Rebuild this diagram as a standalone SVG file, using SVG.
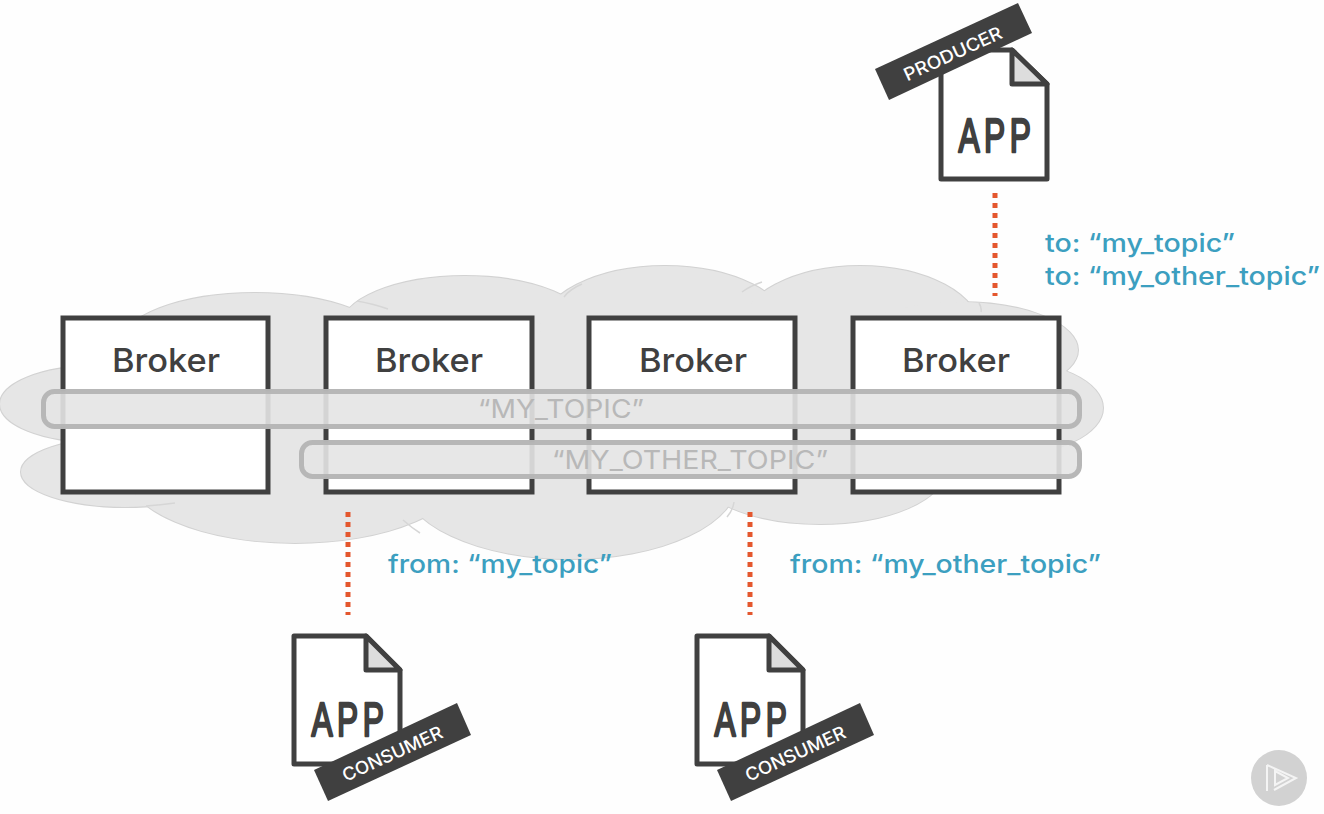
<svg xmlns="http://www.w3.org/2000/svg" width="1324" height="814" viewBox="0 0 1324 814">
<defs>
<style>
.lobe{fill:#e6e6e6;stroke:#d2d2d2;stroke-width:2}
.lobe-fill{fill:#e6e6e6;stroke:none}
.crease{fill:none;stroke:#d6d6d6;stroke-width:1.500}
.box{fill:#fff;stroke:#404040;stroke-width:5;stroke-linejoin:miter}
.bl{font-family:"Inter","Liberation Sans",sans-serif;font-size:33px;font-weight:500;fill:#404040;text-anchor:middle}
.pill{fill:#e4e4e4;fill-opacity:.9;stroke:#b6b6b6;stroke-opacity:.98;stroke-width:5}
.tp{font-family:"Inter","Liberation Sans",sans-serif;font-size:26px;fill:#b8b8b8;text-anchor:middle}
.lab{font-family:"Inter","Liberation Sans",sans-serif;font-size:25px;font-weight:500;fill:#3c9fc0}
.dot{fill:none;stroke:#e4572e;stroke-width:5;stroke-dasharray:5 5}
.page{fill:#fff;stroke:#404040;stroke-width:5;stroke-linejoin:round}
.fold{fill:#dddddd;stroke:#404040;stroke-width:5;stroke-linejoin:round}
.app{font-family:"Liberation Sans",Arial,sans-serif;font-size:48px;letter-spacing:7px;fill:#404040;stroke:#404040;stroke-width:2.500;stroke-linejoin:round;text-anchor:middle}
.ban{fill:#404040}
.bt{font-family:"Inter","Liberation Sans",sans-serif;font-size:18px;font-weight:500;fill:#fff;text-anchor:middle}
</style>
<g id="cloud-shape">
<ellipse cx="95" cy="404" rx="95" ry="38"/>
<ellipse cx="125" cy="472" rx="104" ry="35"/>
<ellipse cx="255" cy="345" rx="135" ry="52"/>
<ellipse cx="465" cy="328" rx="125" ry="52"/>
<ellipse cx="665" cy="330" rx="125" ry="64"/>
<ellipse cx="860" cy="330" rx="120" ry="64"/>
<ellipse cx="960" cy="350" rx="118" ry="48"/>
<ellipse cx="1000" cy="408" rx="103" ry="48"/>
<ellipse cx="295" cy="470" rx="170" ry="73"/>
<ellipse cx="570" cy="480" rx="168" ry="79"/>
<ellipse cx="820" cy="470" rx="125" ry="54"/>
<rect x="100" y="340" width="900" height="150"/>
</g>
</defs>
<rect width="1324" height="814" fill="#fefefe"/>
<g id="cloud">
<use href="#cloud-shape" class="lobe"/>
<use href="#cloud-shape" class="lobe-fill"/>
<path class="crease" d="M357 301Q374 304 388 309M564 297Q570 289 582 284M742 292Q750 286 762 282M979 303Q982 308 981 312M146 506Q160 505 175 503M403 520Q412 528 420 533M734 502Q733 510 727 517"/>
</g>
<g id="broker-1"><rect class="box" x="63" y="318" width="205" height="174"/><text class="bl" x="166" y="372" textLength="108" lengthAdjust="spacingAndGlyphs">Broker</text></g>
<g id="broker-2"><rect class="box" x="326" y="318" width="206" height="174"/><text class="bl" x="429" y="372" textLength="108" lengthAdjust="spacingAndGlyphs">Broker</text></g>
<g id="broker-3"><rect class="box" x="589" y="318" width="206" height="174"/><text class="bl" x="693" y="372" textLength="108" lengthAdjust="spacingAndGlyphs">Broker</text></g>
<g id="broker-4"><rect class="box" x="853" y="318" width="206" height="174"/><text class="bl" x="956" y="372" textLength="108" lengthAdjust="spacingAndGlyphs">Broker</text></g>
<g id="topic-my-topic"><rect class="pill" x="43.500" y="391.500" width="1036" height="35" rx="11"/><text class="tp" x="561" y="418" textLength="166" lengthAdjust="spacingAndGlyphs">“MY_TOPIC”</text></g>
<g id="topic-my-other-topic"><rect class="pill" x="301.500" y="442.500" width="778" height="34" rx="11"/><text class="tp" x="690" y="469" textLength="276" lengthAdjust="spacingAndGlyphs">“MY_OTHER_TOPIC”</text></g>
<g id="connectors">
<path class="dot" d="M995 193V296"/>
<path class="dot" d="M348 512V615"/>
<path class="dot" d="M750 512V615"/>
</g>
<g id="producer">
<path class="page" d="M941 179V50H1012L1047 84V179Z"/>
<path class="fold" d="M1012 50L1047 84H1012Z"/>
<text class="app" transform="translate(997 152) scale(.66 1)">APP</text>
<polygon class="ban" points="875,69 1018,3 1032,33 889,100"/>
<text class="bt" transform="translate(955.500 59.500) rotate(-24.500)" textLength="106" lengthAdjust="spacingAndGlyphs">PRODUCER</text>
</g>
<g id="consumer-1">
<path class="page" d="M294 764V636H366L400 670V764Z"/>
<path class="fold" d="M366 636L400 670H366Z"/>
<text class="app" transform="translate(350 736) scale(.66 1)">APP</text>
<polygon class="ban" points="314,770 457,703 471,735 328,801"/>
<text class="bt" transform="translate(395 759.500) rotate(-24.500)" textLength="108" lengthAdjust="spacingAndGlyphs">CONSUMER</text>
</g>
<g id="consumer-2">
<path class="page" d="M697 764V636H769L803 670V764Z"/>
<path class="fold" d="M769 636L803 670H769Z"/>
<text class="app" transform="translate(753 736) scale(.66 1)">APP</text>
<polygon class="ban" points="717,770 860,703 874,735 731,801"/>
<text class="bt" transform="translate(798 759.500) rotate(-24.500)" textLength="108" lengthAdjust="spacingAndGlyphs">CONSUMER</text>
</g>
<text class="lab" x="1045" y="252" textLength="190" lengthAdjust="spacingAndGlyphs">to: “my_topic”</text>
<text class="lab" x="1045" y="285" textLength="275" lengthAdjust="spacingAndGlyphs">to: “my_other_topic”</text>
<text class="lab" x="388" y="573" textLength="224" lengthAdjust="spacingAndGlyphs">from: “my_topic”</text>
<text class="lab" x="790" y="573" textLength="311" lengthAdjust="spacingAndGlyphs">from: “my_other_topic”</text>
<g id="play-button">
<circle cx="1279" cy="778" r="28" fill="#d2d2d2"/>
<path d="M1267 765V791M1267 765L1296 778L1274 790M1275 771L1288 778L1275 785Z" fill="none" stroke="#f4f4f4" stroke-width="2"/>
</g>
</svg>
